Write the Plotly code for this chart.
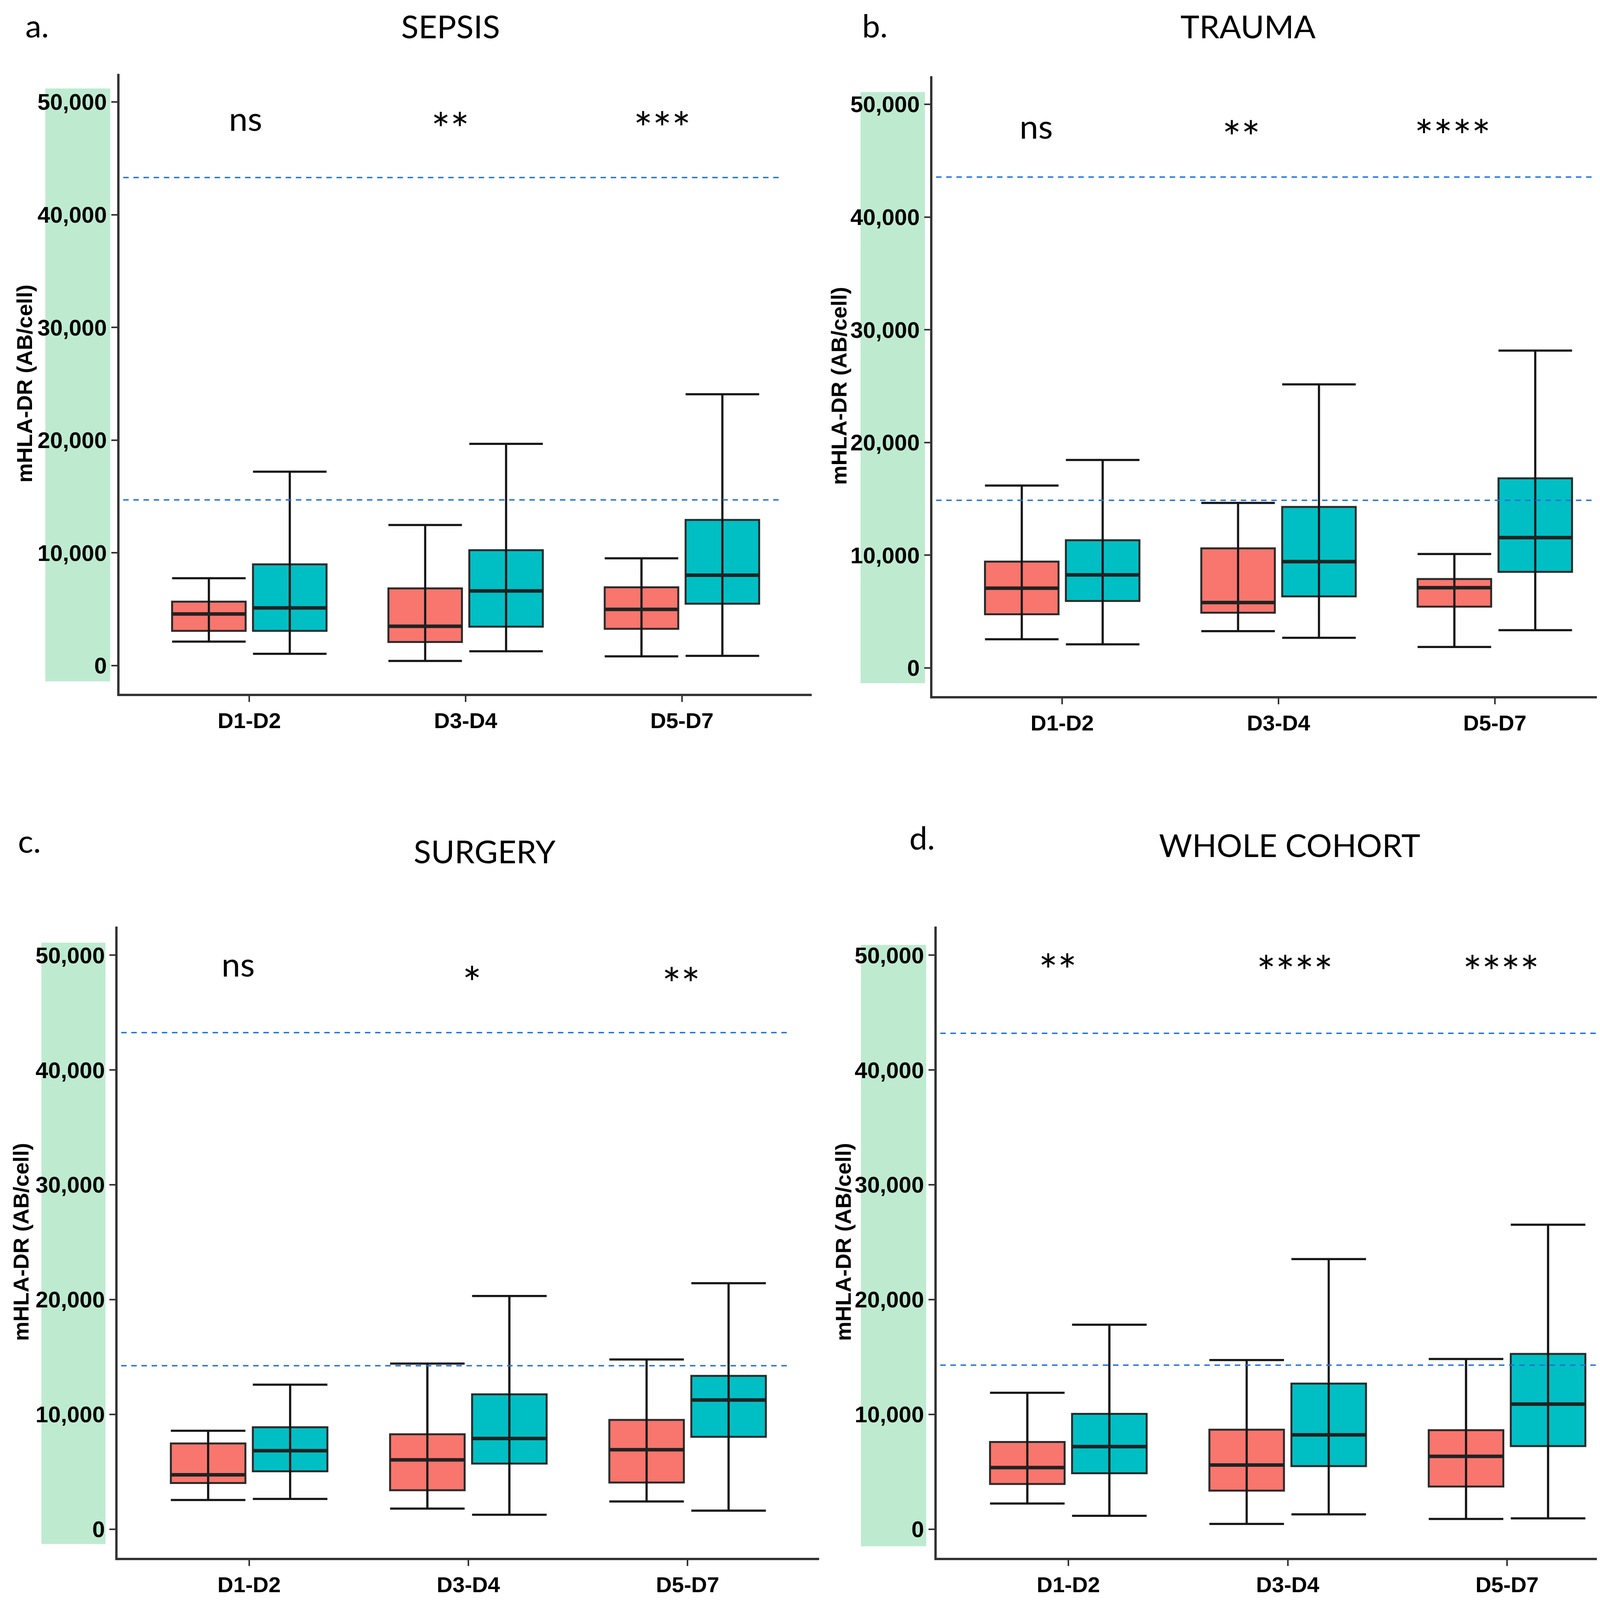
import plotly.graph_objects as go

W, H = 4211, 4108

# ---------------- data ----------------
categories = ["D1-D2", "D3-D4", "D5-D7"]
panel_titles = ["SEPSIS", "TRAUMA", "SURGERY", "WHOLE COHORT"]
panel_letters = ["a.", "b.", "c.", "d."]
y_ticks = [0, 10000, 20000, 30000, 40000, 50000]

# SEPSIS
sepsis_red_lower = [2130, 410, 820]
sepsis_red_q1 = [3080, 2090, 3260]
sepsis_red_median = [4580, 3490, 4990]
sepsis_red_q3 = [5670, 6850, 6940]
sepsis_red_upper = [7750, 12470, 9520]
sepsis_teal_lower = [1040, 1270, 860]
sepsis_teal_q1 = [3080, 3450, 5490]
sepsis_teal_median = [5120, 6620, 8020]
sepsis_teal_q3 = [8980, 10240, 12920]
sepsis_teal_upper = [17200, 19670, 24070]
sepsis_sig = ["ns", "**", "***"]
sepsis_ref = [14700, 43300]

# TRAUMA
trauma_red_lower = [2540, 3260, 1860]
trauma_red_q1 = [4760, 4900, 5440]
trauma_red_median = [7070, 5800, 7120]
trauma_red_q3 = [9430, 10610, 7890]
trauma_red_upper = [16180, 14640, 10110]
trauma_teal_lower = [2090, 2670, 3350]
trauma_teal_q1 = [5940, 6350, 8520]
trauma_teal_median = [8250, 9430, 11560]
trauma_teal_q3 = [11330, 14280, 16820]
trauma_teal_upper = [18450, 25160, 28150]
trauma_sig = ["ns", "**", "****"]
trauma_ref = [14870, 43550]

# SURGERY
surgery_red_lower = [2540, 1790, 2410]
surgery_red_q1 = [4020, 3390, 4060]
surgery_red_median = [4730, 6030, 6920]
surgery_red_q3 = [7460, 8260, 9510]
surgery_red_upper = [8570, 14420, 14780]
surgery_teal_lower = [2630, 1250, 1610]
surgery_teal_q1 = [5040, 5710, 8040]
surgery_teal_median = [6830, 7900, 11250]
surgery_teal_q3 = [8880, 11740, 13350]
surgery_teal_upper = [12590, 20310, 21430]
surgery_sig = ["ns", "*", "**"]
surgery_ref = [14240, 43260]

# WHOLE COHORT
whole_red_lower = [2230, 450, 890]
whole_red_q1 = [3930, 3350, 3710]
whole_red_median = [5360, 5580, 6340]
whole_red_q3 = [7590, 8660, 8620]
whole_red_upper = [11880, 14730, 14820]
whole_teal_lower = [1160, 1290, 940]
whole_teal_q1 = [4870, 5490, 7230]
whole_teal_median = [7190, 8210, 10890]
whole_teal_q3 = [10040, 12680, 15270]
whole_teal_upper = [17810, 23530, 26520]
whole_sig = ["**", "****", "****"]
whole_ref = [14290, 43200]

# ---------------- style / layout constants ----------------
RED = "#F8766D"
TEAL = "#00BFC4"
GREEN = "#BEEBD0"
REFBLUE = "#1E6FD8"
Y_RANGE = [-2500, 52500]
X_RANGE = [-0.6, 2.6]
BOX_W = 0.34
OFFSET = 0.187

# plot areas in pixels (x0, x1, ytop, ybottom)
PANEL_PX = [(298, 2070, 181, 1768), (2379, 4151, 187, 1774),
            (293, 2089, 2364, 3980), (2390, 4187, 2364, 3980)]
GREEN_PX_X = [(108, 274), (2195, 2360), (98, 262), (2196, 2363)]
GREEN_Y = [(-1400, 51200), (-1360, 51100), (-1300, 51100), (-1500, 50900)]
TITLE_PX = [(1145, 58), (3187, 58), (1233, 2170), (3293, 2154)]
LETTER_PX = [(55, 56), (2197, 56), (36, 2143), (2318, 2135)]
YTITLE_PX_X = [54, 2139, 45, 2150]
SIG_DX = [[-0.017, -0.07, -0.09], [-0.121, -0.172, -0.194],
          [-0.05, 0.017, -0.029], [-0.048, 0.033, -0.026]]
SIG_VC = [[47900, 48100, 48200], [47400, 47600, 47700],
          [48600, 48100, 48000], [49200, 49050, 49050]]
REF_X = (-0.63, 2.46)

panels = [
    dict(red=(sepsis_red_lower, sepsis_red_q1, sepsis_red_median, sepsis_red_q3, sepsis_red_upper),
         teal=(sepsis_teal_lower, sepsis_teal_q1, sepsis_teal_median, sepsis_teal_q3, sepsis_teal_upper),
         sig=sepsis_sig, ref=sepsis_ref),
    dict(red=(trauma_red_lower, trauma_red_q1, trauma_red_median, trauma_red_q3, trauma_red_upper),
         teal=(trauma_teal_lower, trauma_teal_q1, trauma_teal_median, trauma_teal_q3, trauma_teal_upper),
         sig=trauma_sig, ref=trauma_ref),
    dict(red=(surgery_red_lower, surgery_red_q1, surgery_red_median, surgery_red_q3, surgery_red_upper),
         teal=(surgery_teal_lower, surgery_teal_q1, surgery_teal_median, surgery_teal_q3, surgery_teal_upper),
         sig=surgery_sig, ref=surgery_ref),
    dict(red=(whole_red_lower, whole_red_q1, whole_red_median, whole_red_q3, whole_red_upper),
         teal=(whole_teal_lower, whole_teal_q1, whole_teal_median, whole_teal_q3, whole_teal_upper),
         sig=whole_sig, ref=whole_ref),
]


def px_x(v):
    return v / W


def px_y(v):
    return 1 - v / H


fig = go.Figure()
shapes = []
annotations = []
layout_axes = {}

for k, p in enumerate(panels):
    n = k + 1
    xa = "x" if n == 1 else f"x{n}"
    ya = "y" if n == 1 else f"y{n}"
    x0, x1, yt, yb = PANEL_PX[k]

    layout_axes["xaxis" if n == 1 else f"xaxis{n}"] = dict(
        domain=[px_x(x0), px_x(x1)], anchor=ya, range=X_RANGE,
        tickmode="array", tickvals=list(range(len(categories))), ticktext=categories,
        showline=True, linecolor="#333333", linewidth=6, ticks="outside",
        ticklen=15, tickwidth=4, tickcolor="#333333", showgrid=False, zeroline=False,
        tickfont=dict(family="Liberation Sans, Arial", size=56, color="black", weight="bold"),
        fixedrange=True)
    layout_axes["yaxis" if n == 1 else f"yaxis{n}"] = dict(
        domain=[px_y(yb), px_y(yt)], anchor=xa, range=Y_RANGE,
        tickmode="array", tickvals=y_ticks, tickformat=",d",
        showline=True, linecolor="#333333", linewidth=6, ticks="outside",
        ticklen=15, tickwidth=4, tickcolor="#333333", showgrid=False, zeroline=False,
        tickfont=dict(family="Liberation Sans, Arial", size=58, color="black", weight="bold"),
        fixedrange=True)

    # green band behind y tick labels
    g0, g1 = GREEN_PX_X[k]
    gy0, gy1 = GREEN_Y[k]
    span = Y_RANGE[1] - Y_RANGE[0]
    shapes.append(dict(type="rect", xref="paper", yref=f"{ya} domain",
                       x0=px_x(g0), x1=px_x(g1),
                       y0=(gy0 - Y_RANGE[0]) / span, y1=(gy1 - Y_RANGE[0]) / span,
                       fillcolor=GREEN, line=dict(width=0), layer="below"))

    for stats, color, off in ((p["red"], RED, -OFFSET), (p["teal"], TEAL, OFFSET)):
        lo, q1, med, q3, hi = stats
        pos = [i + off for i in range(len(categories))]
        fig.add_trace(go.Box(
            x=pos, q1=q1, median=med, q3=q3, lowerfence=lo, upperfence=hi,
            width=BOX_W, fillcolor=color, line=dict(color="#2b2b2b", width=5),
            whiskerwidth=0, boxpoints=False, xaxis=xa, yaxis=ya,
            showlegend=False, hoverinfo="skip"))
        # error bar: whole vertical line + caps
        ex, ey = [], []
        for c, l, h in zip(pos, lo, hi):
            ex += [c, c, None, c - BOX_W / 2, c + BOX_W / 2, None, c - BOX_W / 2, c + BOX_W / 2, None]
            ey += [l, h, None, l, l, None, h, h, None]
        fig.add_trace(go.Scatter(x=ex, y=ey, mode="lines", xaxis=xa, yaxis=ya,
                                 line=dict(color="#151515", width=5.5),
                                 showlegend=False, hoverinfo="skip"))
        # thick median line
        mx, my = [], []
        for c, m in zip(pos, med):
            mx += [c - BOX_W / 2, c + BOX_W / 2, None]
            my += [m, m, None]
        fig.add_trace(go.Scatter(x=mx, y=my, mode="lines", xaxis=xa, yaxis=ya,
                                 line=dict(color="#222222", width=9),
                                 showlegend=False, hoverinfo="skip"))

    # reference dashed lines
    for r in p["ref"]:
        shapes.append(dict(type="line", xref=xa, yref=ya, x0=REF_X[0], x1=REF_X[1],
                           y0=r, y1=r, line=dict(color=REFBLUE, width=3.5, dash="14px,12px"),
                           layer="above"))

    # significance labels
    for i, s in enumerate(p["sig"]):
        vc = SIG_VC[k][i]
        if s == "ns":
            yv, fsize = vc + 700, 86
        else:
            yv, fsize = vc - 400, 115
        annotations.append(dict(text=s, x=i + SIG_DX[k][i], y=yv, xref=xa, yref=ya,
                                showarrow=False, xanchor="center", yanchor="middle",
                                font=dict(family="Lato", size=fsize, color="black")))

    # panel title and letter
    tx, ty = TITLE_PX[k]
    annotations.append(dict(text=panel_titles[k], x=px_x(tx), y=px_y(ty), xref="paper", yref="paper",
                            showarrow=False, xanchor="center", yanchor="middle",
                            font=dict(family="Lato", size=82, color="black")))
    lx, ly = LETTER_PX[k]
    annotations.append(dict(text=panel_letters[k], x=px_x(lx), y=px_y(ly), xref="paper", yref="paper",
                            showarrow=False, xanchor="left", yanchor="middle",
                            font=dict(family="Lato", size=82, color="black")))
    # y axis title
    annotations.append(dict(text="mHLA-DR (AB/cell)", x=px_x(YTITLE_PX_X[k]), y=px_y((yt + yb) / 2),
                            xref="paper", yref="paper", textangle=-90,
                            showarrow=False, xanchor="center", yanchor="middle",
                            font=dict(family="Liberation Sans, Arial", size=56, color="black",
                                      weight="bold")))

fig.update_layout(
    width=W, height=H, margin=dict(l=0, r=0, t=0, b=0),
    paper_bgcolor="white", plot_bgcolor="white", boxmode="overlay",
    showlegend=False, shapes=shapes, annotations=annotations, **layout_axes)

fig.write_html("out.html")
